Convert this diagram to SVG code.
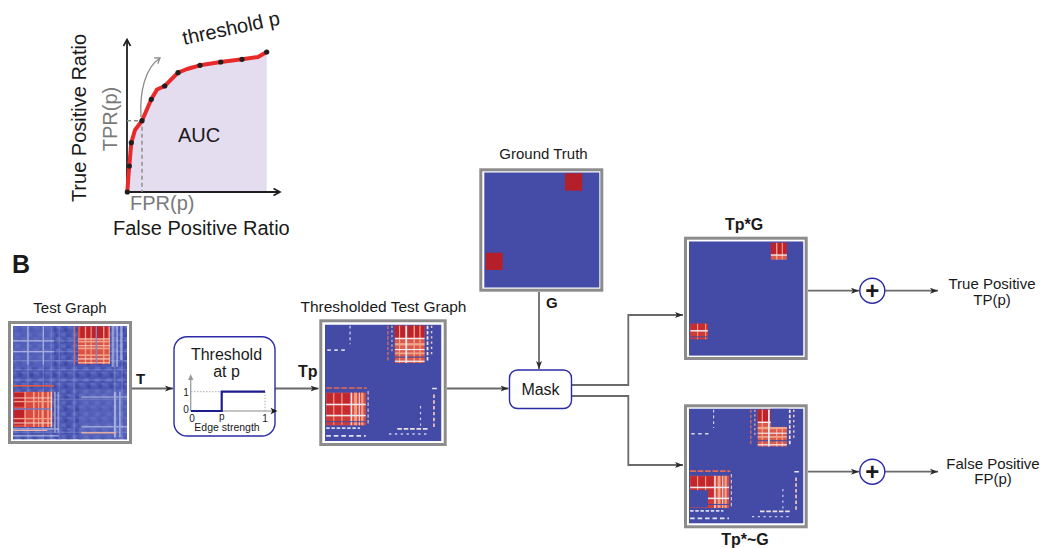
<svg xmlns="http://www.w3.org/2000/svg" xmlns:xlink="http://www.w3.org/1999/xlink" width="1045" height="548" viewBox="0 0 1045 548">
<style>
text{font-family:"Liberation Sans",Arial,Helvetica,sans-serif;fill:#1a1a1a}
.lbl{font-size:15px}
.big{font-size:20px}
.gray{fill:#7a7a7a}
.b{font-weight:bold}
.frame{fill:#fff;stroke:#8c8c8c;stroke-width:3}
.conn{fill:none;stroke:#6a6a6a;stroke-width:1.8}
.node{fill:#fff;stroke:#2b2ba6;stroke-width:1.4}
</style>
<defs>
<marker id="arr" markerUnits="userSpaceOnUse" markerWidth="9" markerHeight="7" refX="8" refY="3.5" orient="auto">
<path d="M0,0.5 L8,3.5 L0,6.5 L2,3.5 z" fill="#2a2a2a"/>
</marker>
<marker id="garr" markerUnits="userSpaceOnUse" markerWidth="9" markerHeight="9" refX="6" refY="4" orient="auto">
<path d="M1,0.5 L6,4 L1,7.5" fill="none" stroke="#8a8a8a" stroke-width="1.3"/>
</marker>
<pattern id="pNoise" width="10" height="10" patternUnits="userSpaceOnUse">
<rect x="0" y="0" width="3" height="3" fill="#5a67be"/>
<rect x="5" y="2" width="3" height="3" fill="#3e4aa5"/>
<rect x="2" y="6" width="4" height="3" fill="#5d6bc1"/>
<rect x="7" y="7" width="3" height="3" fill="#4450ab"/>
<rect x="8" y="0" width="2" height="2" fill="#6370c3"/>
</pattern>
<g id="tgC">
<rect width="100" height="100" fill="#4c58b3"/>
<rect width="100" height="100" fill="url(#pNoise)"/>
<rect x="58" y="56" width="42" height="44" fill="#6472c2" opacity=".45"/>
<rect x="0" y="0" width="36" height="36" fill="#5d6bc1" opacity=".5"/>
<g fill="#a3afe0" opacity=".35">
<rect x="12.5" width="1.2" height="100"/><rect x="26" width="1.2" height="100"/><rect x="33" width="1" height="100"/>
<rect x="40" width="1" height="100"/><rect x="53" width="1.2" height="100"/><rect x="88.5" width="1.4" height="100"/><rect x="95" width="1.2" height="100"/>
<rect y="12.5" width="100" height="1.2"/><rect y="22" width="100" height="1.2"/><rect y="30" width="100" height="1"/>
<rect y="38" width="100" height="1"/><rect y="47" width="100" height="1.2"/><rect y="64" width="100" height="1"/><rect y="93" width="100" height="1.2"/>
</g>
<g fill="#c8cfee" opacity=".6">
<rect x="12.5" y="0" width="1.2" height="34"/><rect x="26" y="0" width="1.2" height="34"/><rect x="0" y="12.5" width="36" height="1.2"/><rect x="0" y="22" width="36" height="1.2"/>
<rect x="86.5" y="0" width="2" height="36"/><rect x="90.5" y="0" width="1.6" height="36"/><rect x="94" y="0" width="2" height="30"/>
<rect x="36" y="58" width="1.5" height="36"/><rect x="39" y="58" width="1.2" height="36"/>
<rect x="60" y="88" width="40" height="1.5"/><rect x="60" y="62" width="40" height="1.2"/><rect x="88.5" y="58" width="2" height="40"/><rect x="93" y="58" width="1.5" height="40"/>
<rect x="0" y="90" width="40" height="1.4"/><rect x="0" y="96" width="40" height="1.4"/>
</g>
<rect x="53.5" y="0" width="1" height="34" fill="#e06650"/>
<rect x="57" y="0.5" width="28" height="33" fill="#db5247"/>
<rect x="59" y="0.5" width="24" height="10" fill="#c0222b"/>
<g fill="#f0a086"><rect x="57" y="13" width="28" height="1.5"/><rect x="57" y="19" width="28" height="1.5"/><rect x="57" y="25" width="28" height="1.5"/><rect x="63" y="0.5" width="1.2" height="33"/><rect x="68" y="0.5" width="1" height="33"/><rect x="79" y="0.5" width="1.2" height="33"/><rect x="84" y="0.5" width="1" height="33"/></g>
<g fill="#f6d3c5"><rect x="57" y="11" width="28" height="0.9"/><rect x="57" y="17" width="28" height="0.8"/><rect x="57" y="28.5" width="28" height="1"/><rect x="57" y="32" width="28" height="0.8"/></g>
<rect x="72.5" y="0.5" width="1.2" height="33" fill="#7d88cc"/>
<rect x="0" y="52" width="36" height="1.4" fill="#e25a45"/>
<rect x="0.5" y="58" width="34" height="31" fill="#d84a42"/>
<g fill="#c0222b"><rect x="1" y="59" width="9" height="12"/><rect x="1" y="74" width="9" height="13"/></g>
<g fill="#f0a086"><rect x="10" y="58" width="1.2" height="31"/><rect x="17.5" y="58" width="1.5" height="31"/><rect x="22" y="58" width="1" height="31"/><rect x="25" y="58" width="2" height="31"/><rect x="30" y="58" width="1.5" height="31"/><rect x="0.5" y="66" width="34" height="1.2"/><rect x="0.5" y="81" width="34" height="1.2"/></g>
<rect x="0.5" y="72.5" width="34" height="1.3" fill="#6f7cc6"/>
<g fill="#f6d3c5"><rect x="0.5" y="63" width="34" height="0.8"/><rect x="0.5" y="85" width="34" height="0.9"/><rect x="33" y="58" width="1.2" height="31"/></g>
<g fill="#f1b6a2"><rect x="60" y="93.5" width="30" height="1.2"/><rect x="0" y="91.5" width="30" height="1"/></g>
</g>
<g id="thrC">
<rect width="100" height="100" fill="#434ba7"/>
<g fill="none" stroke-width="1">
<line x1="21.5" y1="1" x2="21.5" y2="17" stroke="#d5daf0" stroke-dasharray="2.5 2.5"/>
<line x1="2" y1="22" x2="19" y2="22" stroke="#d5daf0" stroke-width="1.3" stroke-dasharray="3 3"/>
<line x1="54" y1="1" x2="54" y2="31" stroke="#e5735d" stroke-dasharray="3 1.5"/>
<line x1="57.5" y1="1" x2="57.5" y2="24" stroke="#f2b5a0" stroke-dasharray="2 2"/>
<line x1="88" y1="1" x2="88" y2="32" stroke="#ece6ee" stroke-width="1.5" stroke-dasharray="3 1.5"/>
<line x1="91.5" y1="1" x2="91.5" y2="28" stroke="#f0c5b5" stroke-width="1.3" stroke-dasharray="2 2.5"/>
<line x1="1" y1="54.5" x2="36" y2="54.5" stroke="#e36a55" stroke-width="1.4" stroke-dasharray="5 1.5"/>
<line x1="37" y1="57" x2="37" y2="86" stroke="#f3c1b0" stroke-dasharray="3 2"/>
<line x1="1" y1="89" x2="30" y2="89" stroke="#d5daf0" stroke-width="1.5" stroke-dasharray="3 1.5"/>
<line x1="1" y1="95.5" x2="35" y2="95.5" stroke="#e2e4f3" stroke-width="1.5" stroke-dasharray="4 2.5"/>
<line x1="93.5" y1="60" x2="93.5" y2="90" stroke="#f2c6b6" stroke-width="1.5" stroke-dasharray="3 2"/>
<line x1="82" y1="70" x2="82" y2="88" stroke="#cfd5ef" stroke-dasharray="2 3"/>
<line x1="62" y1="89.5" x2="88" y2="89.5" stroke="#eee2e2" stroke-width="1.5" stroke-dasharray="4 1.5"/>
<line x1="55" y1="94" x2="90" y2="94" stroke="#c8cfee" stroke-width="1.1" stroke-dasharray="2 3"/>
<line x1="92" y1="55" x2="96" y2="55" stroke="#e7e7f2" stroke-width="1.3"/>
</g>
<rect x="60" y="1" width="25.5" height="32" fill="#dc5a4c"/>
<rect x="60" y="1" width="9" height="10" fill="#c0222b"/>
<rect x="70.5" y="1" width="15" height="10" fill="#c0222b"/>
<g fill="#f0a48a"><rect x="60" y="16" width="25.5" height="2"/><rect x="60" y="24" width="25.5" height="1.5"/><rect x="63.5" y="1" width="1" height="32"/><rect x="76" y="1" width="1.2" height="32"/><rect x="81" y="1" width="1" height="32"/></g>
<g fill="#eee8f0"><rect x="60" y="11.5" width="25.5" height="1.1"/><rect x="60" y="21" width="25.5" height="1"/><rect x="60" y="31" width="25.5" height="1.1"/></g>
<rect x="60" y="27.5" width="25.5" height="1" fill="#434ba7"/>
<rect x="69" y="1" width="1.5" height="32" fill="#ece8f0"/>
<rect x="1" y="58.5" width="34" height="28" fill="#d84a42"/>
<rect x="1.5" y="59" width="20" height="9" fill="#c4262d"/>
<rect x="1.5" y="69.5" width="20" height="8" fill="#c82c30"/>
<rect x="1.5" y="79" width="20" height="7" fill="#cf3a37"/>
<g fill="#f0a086"><rect x="25" y="58.5" width="2.5" height="28"/><rect x="31" y="58.5" width="2" height="28"/><rect x="7" y="59" width="1" height="27"/><rect x="14" y="59" width="1" height="27"/></g>
<g fill="#ece6ee"><rect x="1" y="68" width="34" height="1.3"/><rect x="1" y="77.5" width="34" height="1.3"/><rect x="22" y="58.5" width="1.3" height="28"/><rect x="29" y="58.5" width="0.9" height="28"/></g>
<rect x="1" y="83" width="34" height="0.9" fill="#434ba7"/>
</g>
<clipPath id="gtClip" clipPathUnits="userSpaceOnUse">
<rect x="71.5" y="1" width="14.5" height="15"/>
<rect x="1" y="72" width="15.5" height="13.5"/>
</clipPath>
<symbol id="hmTest" viewBox="0 0 100 100" preserveAspectRatio="none"><use xlink:href="#tgC"/></symbol>
<symbol id="hmThr" viewBox="0 0 100 100" preserveAspectRatio="none"><use xlink:href="#thrC"/></symbol>
<symbol id="hmTpG" viewBox="0 0 100 100" preserveAspectRatio="none">
<rect width="100" height="100" fill="#434ba7"/>
<use xlink:href="#thrC" clip-path="url(#gtClip)"/>
</symbol>
<symbol id="hmTpNG" viewBox="0 0 100 100" preserveAspectRatio="none">
<use xlink:href="#thrC"/>
<rect x="71.5" y="0" width="15" height="16" fill="#434ba7"/>
<rect x="0" y="71" width="16.5" height="15" fill="#434ba7"/>
</symbol>
</defs>

<rect width="1045" height="548" fill="#fff"/>

<g id="roc">
<polygon points="127,192 127.3,192 128.5,175 129.3,166 131.3,142.7 135,130 142,120.7 151.3,99.3 157,89.5 164.7,86 178,72.7 187,69 200,65.3 220.7,62 242,59.3 258,57 266.7,52 266.7,192" fill="#e4dcef"/>
<path d="M127,192 V40 M127,192 H280" fill="none" stroke="#1f1f1f" stroke-width="1.8"/>
<polyline points="123.5,46 127,39.5 130.5,46" fill="none" stroke="#1f1f1f" stroke-width="1.6"/>
<polyline points="273.5,188.5 280,192 273.5,195.5" fill="none" stroke="#1f1f1f" stroke-width="1.6"/>
<path d="M127,120.7 H142 V192" fill="none" stroke="#8a8a8a" stroke-width="1.4" stroke-dasharray="4 3"/>
<path d="M141,117 C139.5,92 145,68 160,58" fill="none" stroke="#8a8a8a" stroke-width="1.3" marker-end="url(#garr)"/>
<polyline points="127.3,192 128.5,175 129.3,166 131.3,142.7 135,130 142,120.7 151.3,99.3 157,89.5 164.7,86 178,72.7 187,69 200,65.3 220.7,62 242,59.3 258,57 266.7,52" fill="none" stroke="#e82a2a" stroke-width="4" stroke-linejoin="round" stroke-linecap="round"/>
<g fill="#1f1f1f">
<circle cx="127.3" cy="192" r="2.6"/><circle cx="129.3" cy="166" r="2.6"/><circle cx="131.3" cy="142.7" r="2.6"/><circle cx="142" cy="120.7" r="2.6"/><circle cx="151.3" cy="99.3" r="2.6"/><circle cx="164.7" cy="86" r="2.6"/><circle cx="178" cy="72.7" r="2.6"/><circle cx="200" cy="65.3" r="2.6"/><circle cx="220.7" cy="62" r="2.6"/><circle cx="242" cy="59.3" r="2.6"/><circle cx="266.7" cy="52" r="2.6"/>
</g>
<text class="big" transform="translate(184,45) rotate(-12)">threshold p</text>
<text class="big" transform="translate(86,118) rotate(-90)" text-anchor="middle">True Positive Ratio</text>
<text class="big gray" transform="translate(117,119) rotate(-90)" text-anchor="middle">TPR(p)</text>
<text class="big" x="178" y="142">AUC</text>
<text class="big gray" x="130" y="210">FPR(p)</text>
<text class="big" x="113" y="235">False Positive Ratio</text>
</g>

<text x="12" y="273" class="b" style="font-size:25px">B</text>

<g id="connectors">
<path class="conn" d="M132,388.5 H173" marker-end="url(#arr)"/>
<path class="conn" d="M275,388.5 H318.5" marker-end="url(#arr)"/>
<path class="conn" d="M447,388.5 H508.5" marker-end="url(#arr)"/>
<path class="conn" d="M539,292 V369" marker-end="url(#arr)"/>
<path class="conn" d="M572,385 H628.3 V315 H683" marker-end="url(#arr)"/>
<path class="conn" d="M572,396 H628.3 V465 H683" marker-end="url(#arr)"/>
<path class="conn" d="M808,290.7 H859" marker-end="url(#arr)"/>
<path class="conn" d="M885,290.7 H938" marker-end="url(#arr)"/>
<path class="conn" d="M808,471.7 H859" marker-end="url(#arr)"/>
<path class="conn" d="M885,471.7 H938" marker-end="url(#arr)"/>
<text class="lbl b" x="136" y="384">T</text>
<text class="lbl b" x="298" y="377" style="font-size:16px">Tp</text>
<text class="lbl b" x="546" y="308">G</text>
</g>

<g id="test-graph">
<text class="lbl" x="70" y="313" text-anchor="middle">Test Graph</text>
<rect class="frame" x="9.5" y="322.5" width="121" height="120"/>
<use xlink:href="#hmTest" x="13" y="326" width="114" height="113.5"/>
</g>

<g id="threshold">
<rect class="node" x="174" y="336.7" width="101" height="99.3" rx="13"/>
<text x="226.5" y="360" text-anchor="middle" style="font-size:16px">Threshold</text>
<text x="226.5" y="377" text-anchor="middle" style="font-size:16px">at p</text>
<path d="M191,391.7 H222 M265,391.7 V411" fill="none" stroke="#9a9a9a" stroke-width="0.8" stroke-dasharray="1.5 1.5"/>
<path d="M190.7,411 V379" fill="none" stroke="#9a9a9a" stroke-width="1.3"/>
<path d="M188,380 L190.7,374 L193.4,380 z" fill="#9a9a9a"/>
<path d="M190.7,411 H273" fill="none" stroke="#b0b0b0" stroke-width="1.5"/>
<path d="M270.5,407.8 L277.5,411 L270.5,414.2 L272.3,411 z" fill="#1a1a1a"/>
<path d="M191,411 H221.7 V391.7 H265" fill="none" stroke="#1c1c8c" stroke-width="2.2"/>
<g style="font-size:10px" text-anchor="middle">
<text x="186" y="395.5">1</text>
<text x="186" y="413">0</text>
<text x="192" y="422">0</text>
<text x="221.7" y="420">p</text>
<text x="265" y="422">1</text>
</g>
<text x="227" y="431" text-anchor="middle" style="font-size:10.5px">Edge strength</text>
</g>

<g id="thresholded-graph">
<text class="lbl" x="383.5" y="311.5" text-anchor="middle" style="font-size:15.5px">Thresholded Test Graph</text>
<rect class="frame" x="320.8" y="320.8" width="124.4" height="123.7"/>
<use xlink:href="#hmThr" x="325" y="324.5" width="116.5" height="116.5"/>
</g>

<g id="ground-truth">
<text class="lbl" x="543.5" y="158.5" text-anchor="middle">Ground Truth</text>
<rect class="frame" x="480.8" y="169.8" width="121" height="120.4"/>
<rect x="484.3" y="172.5" width="115" height="115" fill="#444ca8"/>
<rect x="565" y="173.3" width="17.3" height="17.4" fill="#b41f2a"/>
<rect x="485.7" y="252.7" width="17" height="17.3" fill="#b41f2a"/>
</g>

<g id="mask">
<rect class="node" x="509.5" y="370" width="62" height="38.5" rx="8"/>
<text x="540.5" y="395" text-anchor="middle" style="font-size:16px">Mask</text>
</g>

<g id="tp-g">
<text x="744" y="230" text-anchor="middle" class="b" style="font-size:16px">Tp*G</text>
<rect class="frame" x="685.5" y="238.2" width="120.7" height="120.3"/>
<use xlink:href="#hmTpG" x="689" y="241.3" width="114.5" height="114.5"/>
</g>

<g id="tp-notg">
<rect class="frame" x="685.5" y="405.8" width="120.7" height="121"/>
<use xlink:href="#hmTpNG" x="689" y="408.5" width="114.5" height="115"/>
<text x="745" y="545" text-anchor="middle" class="b" style="font-size:16px">Tp*~G</text>
</g>

<g id="sum-tp">
<circle class="node" cx="872.3" cy="290.7" r="12.5"/>
<text x="872.3" y="299" text-anchor="middle" class="b" style="font-size:24px">+</text>
</g>
<g id="sum-fp">
<circle class="node" cx="872.3" cy="471.7" r="12.5"/>
<text x="872.3" y="480" text-anchor="middle" class="b" style="font-size:24px">+</text>
</g>

<g id="out-tp">
<text class="lbl" x="992" y="288.5" text-anchor="middle">True Positive</text>
<text class="lbl" x="992" y="305" text-anchor="middle">TP(p)</text>
</g>
<g id="out-fp">
<text class="lbl" x="993" y="468.5" text-anchor="middle">False Positive</text>
<text class="lbl" x="993" y="484" text-anchor="middle">FP(p)</text>
</g>
</svg>
